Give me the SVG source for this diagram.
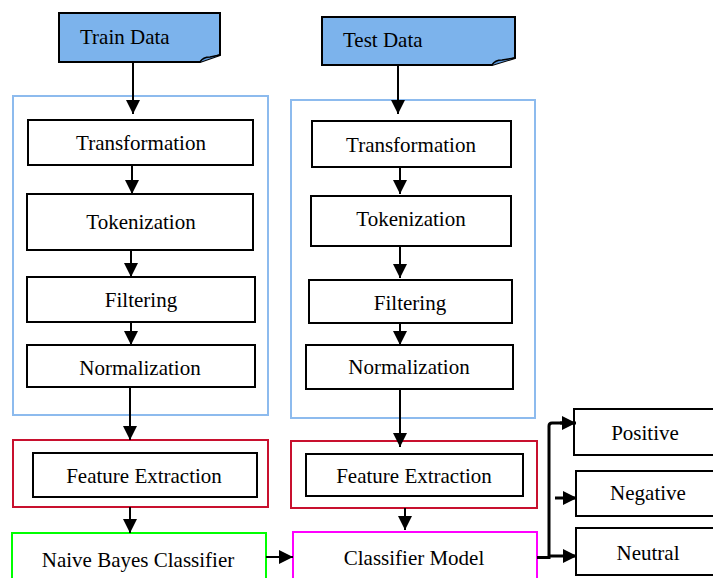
<svg xmlns="http://www.w3.org/2000/svg" width="713" height="578" viewBox="0 0 713 578">
<style>
text{font-family:'Liberation Serif','Times New Roman',Tinos,'DejaVu Serif','Noto Serif',serif;font-size:21px;fill:#000;text-anchor:middle}
.box{fill:#fff;stroke:#000;stroke-width:2}
.doc{fill:#7CB3EC;stroke:#000;stroke-width:2}
.grp{fill:none;stroke:#8DBBEE;stroke-width:2}
.red{fill:#fff;stroke:#C8102E;stroke-width:2}
.grn{fill:#fff;stroke:#00FF00;stroke-width:2}
.mag{fill:#fff;stroke:#FF00FF;stroke-width:2}
.ln{fill:none;stroke:#000;stroke-width:2;marker-end:url(#ah)}
</style>
<defs>
<marker id="ah" viewBox="0 0 14 14" refX="14" refY="7" markerWidth="14" markerHeight="14" markerUnits="userSpaceOnUse" orient="auto">
<path d="M0,0 L14,7 L0,14 Z" fill="#000"/>
</marker>
</defs>

<g font-family="Liberation Serif, Times New Roman, serif">
<!-- containers -->
<g id="train-group"><rect class="grp" x="13" y="96" width="255" height="319"/></g>
<g id="test-group"><rect class="grp" x="291" y="100" width="244" height="318"/></g>
<g id="train-fe-group"><rect class="red" x="13" y="440" width="255" height="67"/></g>
<g id="test-fe-group"><rect class="red" x="291" y="441" width="246" height="67"/></g>

<g id="train-data">
<path class="doc" d="M59,13 H220 V55 L200,62 H59 Z"/>
<path d="M200,62 Q203,57 210,57 L220,55" fill="#5A95D6" stroke="#000" stroke-width="1.5"/>
<text x="80" y="44" style="text-anchor:start">Train Data</text>
</g>
<g id="test-data">
<path class="doc" d="M322,17 H515 V58 L492,65 H322 Z"/>
<path d="M492,65 Q495,60 502,60 L515,58" fill="#5A95D6" stroke="#000" stroke-width="1.5"/>
<text x="343" y="47" style="text-anchor:start">Test Data</text>
</g>

<g id="train-transformation"><rect class="box" x="28" y="120" width="225" height="45"/><text x="141" y="150">Transformation</text></g>
<g id="train-tokenization"><rect class="box" x="27" y="194" width="226" height="56"/><text x="141" y="229">Tokenization</text></g>
<g id="train-filtering"><rect class="box" x="27" y="277" width="228" height="45"/><text x="141" y="307">Filtering</text></g>
<g id="train-normalization"><rect class="box" x="27" y="345" width="228" height="42"/><text x="140" y="375">Normalization</text></g>
<g id="train-feature-extraction"><rect class="box" x="33" y="453" width="224" height="44"/><text x="144" y="483">Feature Extraction</text></g>
<g id="naive-bayes"><rect class="grn" x="12" y="533" width="254" height="50"/><text x="138" y="567">Naive Bayes Classifier</text></g>

<g id="test-transformation"><rect class="box" x="312" y="121" width="199" height="46"/><text x="411" y="152">Transformation</text></g>
<g id="test-tokenization"><rect class="box" x="311" y="196" width="200" height="50"/><text x="411" y="226">Tokenization</text></g>
<g id="test-filtering"><rect class="box" x="309" y="280" width="203" height="43"/><text x="410" y="310">Filtering</text></g>
<g id="test-normalization"><rect class="box" x="306" y="345" width="207" height="44"/><text x="409" y="374">Normalization</text></g>
<g id="test-feature-extraction"><rect class="box" x="306" y="454" width="217" height="42"/><text x="414" y="483">Feature Extraction</text></g>
<g id="classifier-model"><rect class="mag" x="293" y="532" width="244" height="50"/><text x="414" y="565">Classifier Model</text></g>

<g id="positive"><rect class="box" x="574" y="409" width="145" height="46"/><text x="645" y="440">Positive</text></g>
<g id="negative"><rect class="box" x="576" y="471" width="145" height="45"/><text x="648" y="500">Negative</text></g>
<g id="neutral"><rect class="box" x="576" y="528" width="145" height="47"/><text x="648" y="560">Neutral</text></g>

<g id="connectors">
<line class="ln" x1="133" y1="62" x2="133" y2="114"/>
<line class="ln" x1="132" y1="165" x2="132" y2="194"/>
<line class="ln" x1="131" y1="250" x2="131" y2="277"/>
<line class="ln" x1="131" y1="322" x2="131" y2="345"/>
<line class="ln" x1="130" y1="387" x2="130" y2="440"/>
<line class="ln" x1="130" y1="507" x2="130" y2="533"/>
<line class="ln" x1="266" y1="557" x2="293" y2="557"/>

<line class="ln" x1="398" y1="65" x2="398" y2="114"/>
<line class="ln" x1="400" y1="167" x2="400" y2="194"/>
<line class="ln" x1="400" y1="246" x2="400" y2="278"/>
<line class="ln" x1="400" y1="323" x2="400" y2="345"/>
<line class="ln" x1="400" y1="389" x2="400" y2="447"/>
<line class="ln" x1="405" y1="508" x2="405" y2="530"/>

<path d="M537,557.5 H549 V426 Q549,423 552,423 H562" fill="none" stroke="#000" stroke-width="3"/>
<line class="ln" x1="560" y1="423" x2="576" y2="423" style="stroke-width:3"/>
<line class="ln" x1="555" y1="498" x2="577" y2="498" style="stroke-width:3"/>
<line class="ln" x1="549" y1="556" x2="577" y2="556" style="stroke-width:3"/>
</g>
</g>
</svg>
